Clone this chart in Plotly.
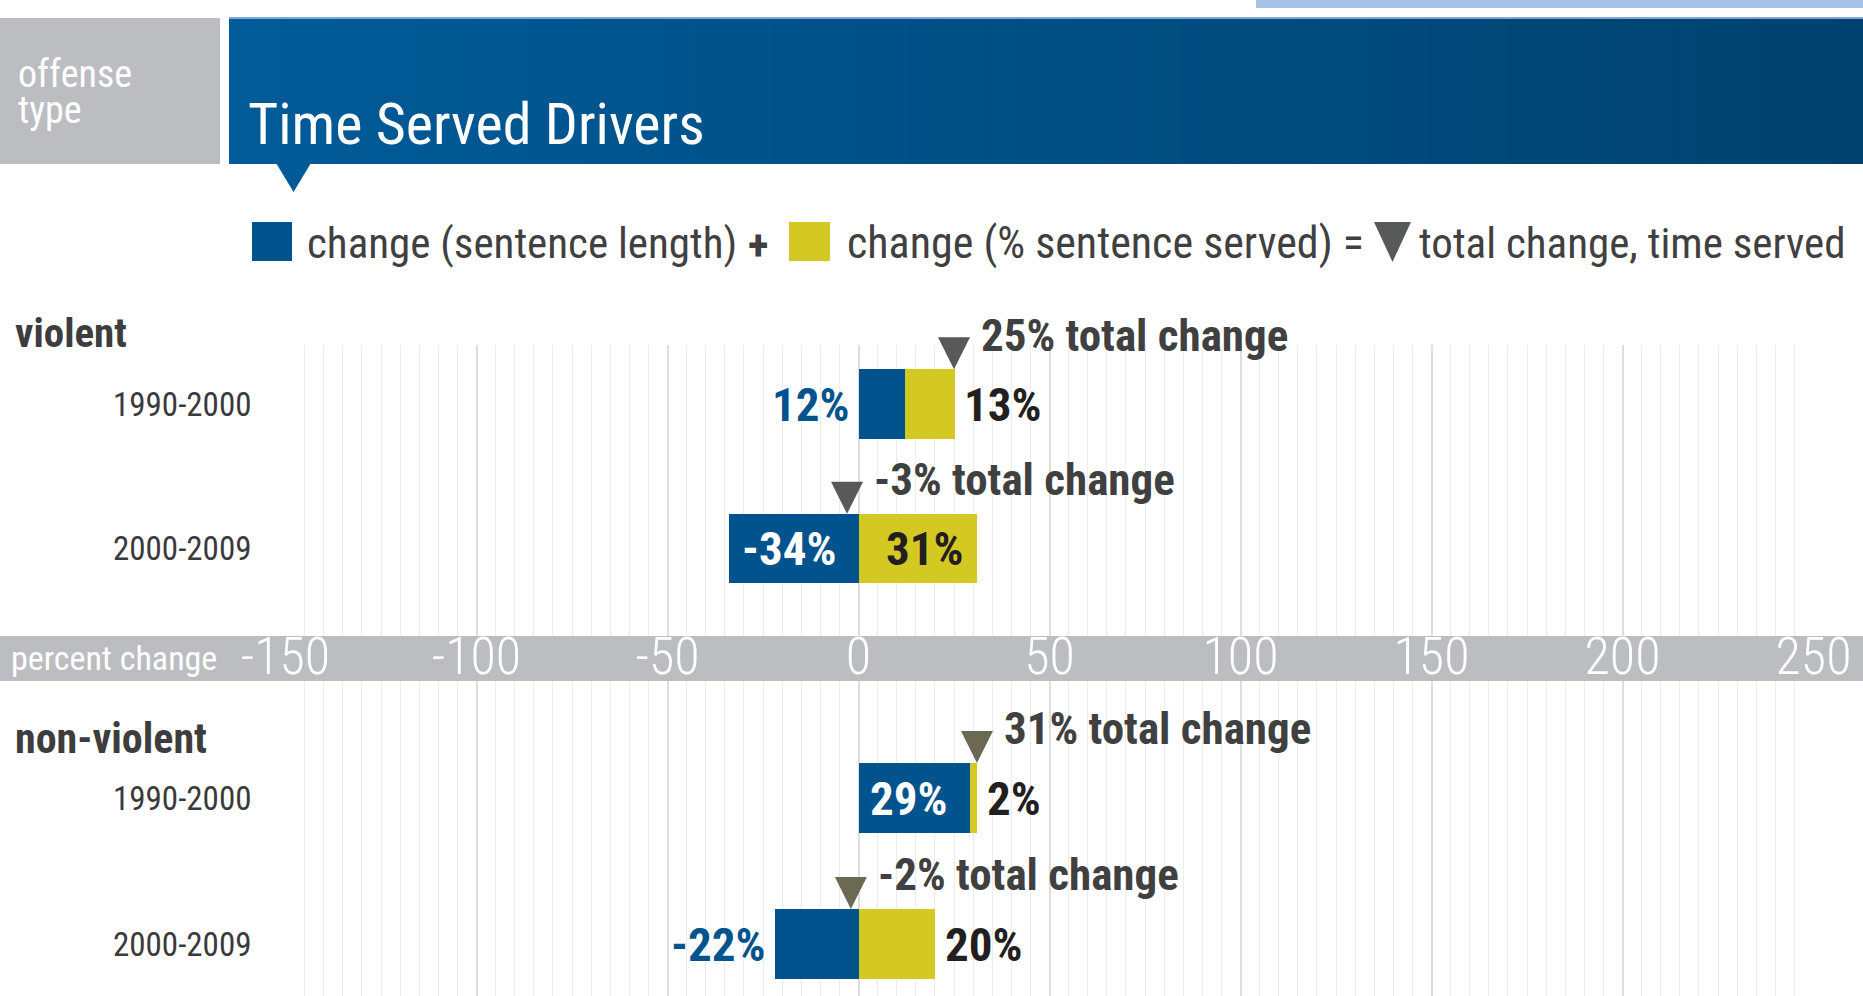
import plotly.graph_objects as go

W, H = 1863, 996

# ---------------- data ----------------
periods = ["1990-2000", "2000-2009"]
violent_length = [12, -34]      # change (sentence length)
violent_served = [13, 31]       # change (% sentence served)
violent_total = [25, -3]        # total change, time served
nonviolent_length = [29, -22]
nonviolent_served = [2, 20]
nonviolent_total = [31, -2]
x_ticks = [-150, -100, -50, 0, 50, 100, 150, 200, 250]

# label placement per bar segment ("in" = inside, "out" = outside)
violent_length_pos = ["out", "in"]
violent_served_pos = ["out", "in"]
nonviolent_length_pos = ["in", "out"]
nonviolent_served_pos = ["out", "out"]

# ---------------- style ----------------
FONT = "Roboto Condensed, Liberation Sans Narrow, Arial Narrow, DejaVu Sans Condensed, sans-serif"
BLUE = "#00538c"
YELLOW = "#d4c922"
GRAY_BAND = "#bcbdc0"
DARK = "#231f20"
TXT = "#404041"
BW = 0.48


def px(x):
    return x / W


def py(y):
    return 1 - y / H


fig = go.Figure()
rows = list(range(len(periods)))

panels = [
    dict(xa="x", ya="y", length=violent_length, served=violent_served, total=violent_total,
         lpos=violent_length_pos, spos=violent_served_pos, tri="#58595b"),
    dict(xa="x2", ya="y2", length=nonviolent_length, served=nonviolent_served, total=nonviolent_total,
         lpos=nonviolent_length_pos, spos=nonviolent_served_pos, tri="#6b6953"),
]

annotations = []
for p in panels:
    fig.add_trace(go.Bar(y=rows, x=p["length"], orientation="h", width=BW,
                         marker=dict(color=BLUE, line=dict(width=0)),
                         xaxis=p["xa"], yaxis=p["ya"], showlegend=False, hoverinfo="skip"))
    fig.add_trace(go.Bar(y=rows, x=p["served"], orientation="h", width=BW,
                         marker=dict(color=YELLOW, line=dict(width=0)),
                         xaxis=p["xa"], yaxis=p["ya"], showlegend=False, hoverinfo="skip"))
    tops = [r - BW / 2 for r in rows]
    fig.add_trace(go.Scatter(x=p["total"], y=tops, mode="markers", cliponaxis=False,
                             marker=dict(symbol="arrow-down", size=32, color=p["tri"], line=dict(width=0)),
                             xaxis=p["xa"], yaxis=p["ya"], showlegend=False, hoverinfo="skip"))
    for i, r in enumerate(rows):
        b = p["length"][i]
        s = p["served"][i]
        t = p["total"][i]
        xr = p["xa"]
        yr = p["ya"]
        # total change label
        annotations.append(dict(x=t, y=r - BW / 2, xref=xr, yref=yr, text=f"{t}% total change",
                                showarrow=False, xanchor="left", yanchor="middle", xshift=25, yshift=34,
                                font=dict(family=FONT, size=45, color=TXT, weight="bold")))
        # sentence length label
        if p["lpos"][i] == "in":
            annotations.append(dict(x=b / 2, y=r, xref=xr, yref=yr, text=f"{b}%", showarrow=False,
                                    xanchor="center", yanchor="middle", xshift=-5,
                                    font=dict(family=FONT, size=47, color="white", weight="bold")))
        else:
            annotations.append(dict(x=min(0, b), y=r, xref=xr, yref=yr, text=f"{b}%", showarrow=False,
                                    xanchor="right", yanchor="middle", xshift=-7,
                                    font=dict(family=FONT, size=47, color=BLUE, weight="bold")))
        # % served label
        base = b if (b > 0 and s > 0) else 0
        if p["spos"][i] == "in":
            annotations.append(dict(x=base + s / 2, y=r, xref=xr, yref=yr, text=f"{s}%", showarrow=False,
                                    xanchor="center", yanchor="middle", xshift=7,
                                    font=dict(family=FONT, size=47, color=DARK, weight="bold")))
        else:
            annotations.append(dict(x=base + s, y=r, xref=xr, yref=yr, text=f"{s}%", showarrow=False,
                                    xanchor="left", yanchor="middle", xshift=8,
                                    font=dict(family=FONT, size=47, color=DARK, weight="bold")))

# ---------------- decorations ----------------
shapes = []
shapes.append(dict(type="rect", xref="paper", yref="paper", x0=px(1256), x1=1, y0=py(8), y1=1,
                   fillcolor="#a6c3e5", line=dict(width=0), layer="above"))
shapes.append(dict(type="rect", xref="paper", yref="paper", x0=0, x1=px(220), y0=py(164), y1=py(18),
                   fillcolor=GRAY_BAND, line=dict(width=0), layer="above"))
n = 60
hx0, hx1 = 229, W
c0 = (0x00, 0x5b, 0x98)
c1 = (0x00, 0x42, 0x6f)
for k in range(n):
    f = k / (n - 1)
    col = "#%02x%02x%02x" % tuple(int(round(a + (b_ - a) * f)) for a, b_ in zip(c0, c1))
    xa_ = hx0 + (hx1 - hx0) * k / n
    xb_ = hx0 + (hx1 - hx0) * (k + 1) / n + 1
    shapes.append(dict(type="rect", xref="paper", yref="paper", x0=px(xa_), x1=px(min(xb_, W)),
                       y0=py(164), y1=py(18), fillcolor=col, line=dict(width=0), layer="above"))
shapes.append(dict(type="rect", xref="paper", yref="paper", x0=px(229), x1=1, y0=py(19), y1=py(17),
                   fillcolor="#7fa6d0", line=dict(width=0), layer="above"))
shapes.append(dict(type="path", xref="paper", yref="paper",
                   path=f"M{px(276)},{py(163)} L{px(311)},{py(163)} L{px(293.5)},{py(192)} Z",
                   fillcolor="#005a96", line=dict(width=0), layer="above"))
shapes.append(dict(type="rect", xref="paper", yref="paper", x0=px(252), x1=px(292), y0=py(261), y1=py(222),
                   fillcolor=BLUE, line=dict(width=0)))
shapes.append(dict(type="rect", xref="paper", yref="paper", x0=px(789), x1=px(830), y0=py(261), y1=py(222),
                   fillcolor=YELLOW, line=dict(width=0)))
shapes.append(dict(type="path", xref="paper", yref="paper",
                   path=f"M{px(1374)},{py(222)} L{px(1411)},{py(222)} L{px(1392.5)},{py(262)} Z",
                   fillcolor="#58595b", line=dict(width=0)))
shapes.append(dict(type="rect", xref="paper", yref="paper", x0=0, x1=1, y0=py(681), y1=py(636),
                   fillcolor=GRAY_BAND, line=dict(width=0), layer="below"))

# ---------------- texts ----------------
annotations += [
    dict(x=px(16), y=py(92), xref="paper", yref="paper",
         text="<span style='font-size:38px'>offense<br>type</span>", showarrow=False,
         xanchor="left", yanchor="middle", align="left",
         font=dict(family=FONT, size=28, color="white")),
    dict(x=px(246), y=py(124), xref="paper", yref="paper", text="Time Served Drivers", showarrow=False,
         xanchor="left", yanchor="middle", font=dict(family=FONT, size=58, color="white")),
    dict(x=px(305), y=py(243), xref="paper", yref="paper", text="change (sentence length)", showarrow=False,
         xanchor="left", yanchor="middle", font=dict(family=FONT, size=43, color=TXT)),
    dict(x=px(758), y=py(245), xref="paper", yref="paper", text="+", showarrow=False,
         xanchor="center", yanchor="middle", font=dict(family=FONT, size=43, color=TXT, weight="bold")),
    dict(x=px(845), y=py(243), xref="paper", yref="paper", text="change (% sentence served) =", showarrow=False,
         xanchor="left", yanchor="middle", font=dict(family=FONT, size=44, color=TXT)),
    dict(x=px(1417), y=py(243), xref="paper", yref="paper", text="total change, time served", showarrow=False,
         xanchor="left", yanchor="middle", font=dict(family=FONT, size=43, color=TXT)),
    dict(x=px(13), y=py(333), xref="paper", yref="paper", text="violent", showarrow=False,
         xanchor="left", yanchor="middle", font=dict(family=FONT, size=41, color="#3d3d3d", weight="bold")),
    dict(x=px(13), y=py(738), xref="paper", yref="paper", text="non-violent", showarrow=False,
         xanchor="left", yanchor="middle", font=dict(family=FONT, size=42, color="#3d3d3d", weight="bold")),
    dict(x=px(9), y=py(658), xref="paper", yref="paper", text="percent change", showarrow=False,
         xanchor="left", yanchor="middle", font=dict(family=FONT, size=34, color="white")),
]

# ---------------- axes ----------------
xdom = [px(285.5), px(1813.5)]
common_x = dict(range=[x_ticks[0], x_ticks[-1]], domain=xdom, tickvals=x_ticks,
                ticktext=[str(v) for v in x_ticks], showgrid=True, gridcolor="#dedede", gridwidth=1.5,
                zeroline=False, showline=False, ticks="", fixedrange=True, automargin=False,
                minor=dict(tick0=0, dtick=5, showgrid=True, gridcolor="#ececec", gridwidth=1))
common_y = dict(tickvals=rows, ticktext=periods, showgrid=False, zeroline=False, showline=False,
                ticks="", ticklabelstandoff=33, fixedrange=True, automargin=False,
                tickfont=dict(family=FONT, size=33, color="#3a3a3a"))

fig.update_layout(
    width=W, height=H, margin=dict(l=0, r=0, t=0, b=0, pad=0, autoexpand=False),
    paper_bgcolor="white", plot_bgcolor="rgba(0,0,0,0)",
    barmode="relative", bargap=0,
    xaxis=dict(**common_x, anchor="y", showticklabels=True, ticklabelstandoff=-15,
               tickfont=dict(family=FONT, size=52, color="white", weight=300)),
    yaxis=dict(**common_y, anchor="x", domain=[py(636), py(345)],
               range=[(636 - 404) / 144.5, (345 - 404) / 144.5]),
    xaxis2=dict(**common_x, anchor="y2", showticklabels=False),
    yaxis2=dict(**common_y, anchor="x2", domain=[0, py(681)],
                range=[(996 - 798) / 146, (681 - 798) / 146]),
    shapes=shapes,
    annotations=annotations,
    showlegend=False,
)

fig.write_html("out.html", config={"displayModeBar": False},
               post_script="document.body.style.margin='0px';document.body.style.overflow='hidden';")
